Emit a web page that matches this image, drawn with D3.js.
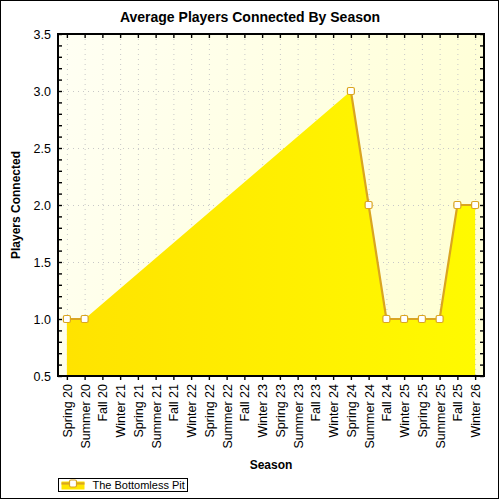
<!DOCTYPE html>
<html>
<head>
<meta charset="utf-8">
<script src="https://cdn.jsdelivr.net/npm/d3@7"></script>
<style>
  body { margin: 0; background: #fff; }
  text { font-family: "Liberation Sans", Arial, sans-serif; }
</style>
</head>
<body>
<div class="content"></div>
<script>
const seasons = ['Spring 20', 'Summer 20', 'Fall 20', 'Winter 21', 'Spring 21', 'Summer 21',
  'Fall 21', 'Winter 22', 'Spring 22', 'Summer 22', 'Fall 22', 'Winter 23', 'Spring 23',
  'Summer 23', 'Fall 23', 'Winter 24', 'Spring 24', 'Summer 24', 'Fall 24', 'Winter 25',
  'Spring 25', 'Summer 25', 'Fall 25', 'Winter 26'];
// null = no data that season
const players = [1, 1, null, null, null, null, null, null, null, null, null, null, null,
  null, null, null, 3, 2, 1, 1, 1, 1, 2, 2];
const yTicks = [0.5, 1.0, 1.5, 2.0, 2.5, 3.0, 3.5];
const seriesName = 'The Bottomless Pit';

const [svgWidth, svgHeight] = [500, 500];
const plot = {left: 58, right: 484, top: 34, bottom: 376};
const font = '"Liberation Sans", Arial, sans-serif';

const svg = d3.select('.content')
  .append('svg')
  .attr('width', svgWidth)
  .attr('height', svgHeight);

const defs = svg.append('defs');
const bgGrad = defs.append('linearGradient')
  .attr('id', 'bg')
  .attr('x1', 0).attr('y1', 0).attr('x2', 1).attr('y2', 0.3);
bgGrad.append('stop').attr('offset', 0).attr('stop-color', '#fffff4');
bgGrad.append('stop').attr('offset', 1).attr('stop-color', '#ffffd6');
const areaGrad = defs.append('linearGradient')
  .attr('id', 'fill')
  .attr('x1', 0).attr('y1', 0).attr('x2', 1).attr('y2', 0);
areaGrad.append('stop').attr('offset', 0).attr('stop-color', '#ffe300');
areaGrad.append('stop').attr('offset', 1).attr('stop-color', '#fffa00');

svg.append('rect')
  .attr('x', 0.5).attr('y', 0.5)
  .attr('width', svgWidth - 2).attr('height', svgHeight - 2)
  .attr('fill', '#fff')
  .attr('stroke', '#000');

const x = d3.scalePoint()
  .domain(seasons)
  .range([plot.left, plot.right])
  .padding(0.5);
const y = d3.scaleLinear()
  .domain([0.5, 3.5])
  .range([plot.bottom, plot.top]);

svg.append('rect')
  .attr('x', plot.left).attr('y', plot.top)
  .attr('width', plot.right - plot.left).attr('height', plot.bottom - plot.top)
  .attr('fill', 'url(#bg)');

// grid
const grid = svg.append('g')
  .attr('stroke', '#c8c8c8')
  .attr('stroke-dasharray', '1,4');
grid.selectAll('line.v')
  .data(seasons)
  .enter()
  .append('line')
  .attr('x1', d => x(d) + 0.5).attr('x2', d => x(d) + 0.5)
  .attr('y1', plot.top).attr('y2', plot.bottom);
grid.selectAll('line.h')
  .data(yTicks.slice(1, -1))
  .enter()
  .append('line')
  .attr('y1', d => Math.round(y(d)) + 0.5).attr('y2', d => Math.round(y(d)) + 0.5)
  .attr('x1', plot.left).attr('x2', plot.right);

const pts = seasons.map((s, i) => ({s, v: players[i]}));
const known = pts.filter(d => d.v != null);

const area = d3.area()
  .x(d => x(d.s))
  .y0(y(0.5))
  .y1(d => y(d.v));
svg.append('path')
  .datum(known)
  .attr('fill', 'url(#fill)')
  .attr('d', area);

const line = d3.line()
  .defined(d => d.v != null)
  .x(d => x(d.s))
  .y(d => y(d.v));
svg.append('path')
  .datum(pts)
  .attr('fill', 'none')
  .attr('stroke', '#daa520')
  .attr('stroke-width', 2.2)
  .attr('d', line);

svg.selectAll('rect.mark')
  .data(known)
  .enter()
  .append('rect')
  .classed('mark', true)
  .attr('x', d => x(d.s) - 3.5)
  .attr('y', d => y(d.v) - 3.5)
  .attr('width', 7).attr('height', 7)
  .attr('rx', 1.5)
  .attr('fill', '#fff')
  .attr('stroke', '#daa520')
  .attr('stroke-width', 1.2);

// axes
const minor = d3.range(5, 36).map(d => d / 10);
svg.append('rect')
  .attr('x', plot.left).attr('y', plot.top)
  .attr('width', plot.right - plot.left).attr('height', plot.bottom - plot.top)
  .attr('fill', 'none')
  .attr('stroke', '#000')
  .attr('stroke-width', 2);

svg.append('g')
  .attr('transform', `translate(${plot.left},0)`)
  .call(d3.axisRight(y).tickValues(minor).tickSize(4).tickFormat(''))
  .call(g => g.select('.domain').remove());
svg.append('g')
  .attr('transform', `translate(${plot.right},0)`)
  .call(d3.axisLeft(y).tickValues(minor).tickSize(4).tickFormat(''))
  .call(g => g.select('.domain').remove());
svg.append('g')
  .attr('transform', `translate(${plot.left - 4},0)`)
  .call(d3.axisLeft(y).tickValues(yTicks).tickSize(0).tickFormat(d3.format('.1f')))
  .call(g => g.select('.domain').remove())
  .selectAll('text')
  .attr('font-size', 12.5)
  .attr('font-family', font)
  .attr('fill', '#000');

svg.append('g')
  .attr('transform', `translate(0,${plot.top})`)
  .call(d3.axisBottom(x).tickSize(4).tickFormat(''))
  .call(g => g.select('.domain').remove());
svg.append('g')
  .attr('transform', `translate(0,${plot.bottom})`)
  .call(d3.axisBottom(x).tickSize(4))
  .call(g => g.select('.domain').remove())
  .selectAll('text')
  .attr('font-size', 12.5)
  .attr('font-family', font)
  .attr('fill', '#000')
  .attr('text-anchor', 'end')
  .attr('transform', 'rotate(-90)')
  .attr('x', -8)
  .attr('y', 0)
  .attr('dy', '0.35em');
svg.selectAll('.tick line').attr('stroke', '#000').attr('stroke-width', 1.4);

// titles
svg.append('text')
  .attr('x', 250).attr('y', 22)
  .attr('text-anchor', 'middle')
  .attr('font-size', 14)
  .attr('font-weight', 'bold')
  .text('Average Players Connected By Season');
svg.append('text')
  .attr('transform', `translate(20,${(plot.top + plot.bottom) / 2}) rotate(-90)`)
  .attr('text-anchor', 'middle')
  .attr('font-size', 12)
  .attr('font-weight', 'bold')
  .text('Players Connected');
svg.append('text')
  .attr('x', (plot.left + plot.right) / 2).attr('y', 469)
  .attr('text-anchor', 'middle')
  .attr('font-size', 12)
  .attr('font-weight', 'bold')
  .text('Season');

// legend
const lg = svg.append('g').attr('transform', 'translate(58.5,478.5)');
lg.append('rect')
  .attr('width', 129).attr('height', 13)
  .attr('fill', '#fff').attr('stroke', '#000');
lg.append('rect')
  .attr('x', 3).attr('y', 3).attr('width', 23).attr('height', 8)
  .attr('fill', '#ffe600');
lg.append('line')
  .attr('x1', 3).attr('x2', 26).attr('y1', 5).attr('y2', 5)
  .attr('stroke', '#daa520').attr('stroke-width', 2.2);
lg.append('rect')
  .attr('x', 11).attr('y', 1.5).attr('width', 7).attr('height', 7).attr('rx', 1.5)
  .attr('fill', '#fff').attr('stroke', '#daa520').attr('stroke-width', 1.2);
lg.append('text')
  .attr('x', 34).attr('y', 10.5)
  .attr('font-size', 11)
  .text(seriesName);
</script>
</body>
</html>
